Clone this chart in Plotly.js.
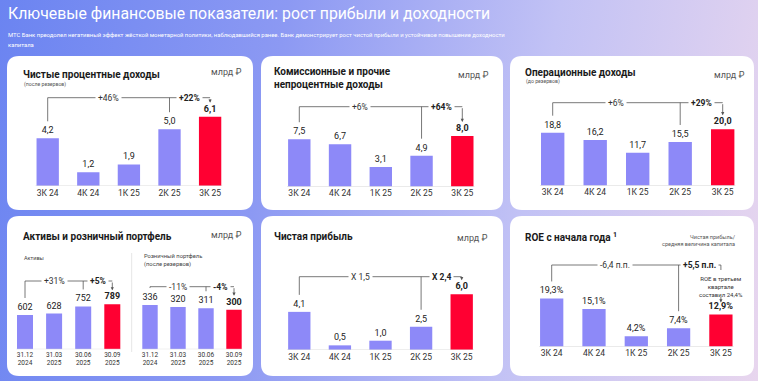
<!DOCTYPE html>
<html><head><meta charset="utf-8">
<script src="https://cdn.plot.ly/plotly-3.0.1.min.js"></script>
<style>
html,body{margin:0;padding:0;width:758px;height:381px;overflow:hidden;}
body{background:linear-gradient(100deg,#6b84f1 0%,#8c99f3 35%,#c2c2f5 68%,#e8d6ee 100%);}
#chart{width:758px;height:381px;}
</style></head><body><div id="chart"></div>
<script>
// ---- data ----
const quarters = ['3К 24','4К 24','1К 25','2К 25','3К 25'];
const netInterestIncome = [4.2, 1.2, 1.9, 5.0, 6.1];
const feeIncome = [7.5, 6.7, 3.1, 4.9, 8.0];
const operatingIncome = [18.8, 16.2, 11.7, 15.5, 20.0];
const dates = ['31.12<br>2024','31.03<br>2025','30.06<br>2025','30.09<br>2025'];
const assets = [602, 628, 752, 789];
const retailPortfolio = [336, 320, 311, 300];
const netProfit = [4.1, 0.5, 1.0, 2.5, 6.0];
const roe = [19.3, 15.1, 4.2, 7.4, 12.9];
const niiChanges = ['+46%','+22%'];
const feeChanges = ['+6%','+64%'];
const opChanges = ['+6%','+29%'];
const assetChanges = ['+31%','+5%'];
const retailChanges = ['-11%','-4%'];
const profitChanges = ['X 1,5','X 2,4'];
const roeChanges = ['-6,4 п.п.','+5,5 п.п.'];

// ---- layout helpers ----
const W=758,H=381;
const X=px=>px/W, Y=py=>1-py/H;
const purple='#8d89f8', red='#ff0032', lineCol='#555';
const FONT='Roboto, "Noto Sans", sans-serif';
const fmt=(v,d)=>v.toFixed(d).replace('.',',');
const traces=[], shapes=[], annotations=[];

function roundRect(x0,y0,x1,y1,r){
  const rx=r/W, ry=r/H;
  const a=X(x0),b=X(x1),t=Y(y0),bt=Y(y1);
  return `M${a+rx},${t} L${b-rx},${t} Q${b},${t} ${b},${t-ry} L${b},${bt+ry} Q${b},${bt} ${b-rx},${bt} L${a+rx},${bt} Q${a},${bt} ${a},${bt+ry} L${a},${t-ry} Q${a},${t} ${a+rx},${t} Z`;
}
const cards=[[7,56,253,210],[261,56,503,210],[510,56,754,210],[7,216,253,376],[261,216,503,376],[510,216,754,376]];
cards.forEach(c=>shapes.push({type:'path',xref:'paper',yref:'paper',path:roundRect(...c,12),fillcolor:'#ffffff',line:{width:0},layer:'below'}));

const panels=[
 {cats:quarters,vals:netInterestIncome,chg:niiChanges,dec:1,c0:47.7,s:40.6,base:186,ppu:11.36,by:97.7},
 {cats:quarters,vals:feeIncome,chg:feeChanges,dec:1,c0:299.3,s:40.75,base:186.7,ppu:6.33,by:106.7},
 {cats:quarters,vals:operatingIncome,chg:opChanges,dec:1,c0:552.7,s:42.5,base:185.7,ppu:2.82,by:102.7},
 {cats:dates,vals:assets,chg:assetChanges,dec:0,c0:25,s:29.1,base:349.3,ppu:0.057,by:281,tick:6.5},
 {cats:dates,vals:retailPortfolio,chg:retailChanges,dec:0,c0:150,s:28,base:349.3,ppu:0.132,by:286.7,tick:6.5},
 {cats:quarters,vals:netProfit,chg:profitChanges,dec:1,c0:299.3,s:40.6,base:350,ppu:9.3,by:276.7},
 {cats:quarters,vals:roe,chg:roeChanges,dec:1,c0:551.7,s:42.3,base:346.7,ppu:2.5,by:265,suffix:'%',note:true}
];
const PH=100;
const layout={width:W,height:H,margin:{l:0,r:0,t:0,b:0},paper_bgcolor:'rgba(0,0,0,0)',plot_bgcolor:'rgba(0,0,0,0)',
  showlegend:false,font:{family:FONT,color:'#333'},shapes,annotations,hovermode:false};

panels.forEach((p,i)=>{
  const k=i===0?'':String(i+1);
  const n=p.vals.length;
  const xr='x'+k, yr='y'+k;
  layout['xaxis'+k]={domain:[X(p.c0-p.s/2),X(p.c0+(n-0.5)*p.s)],anchor:yr,type:'category',range:[-0.5,n-0.5],
    showgrid:false,zeroline:false,showline:false,ticks:'',tickfont:{size:p.tick||8.5,color:'#333'},fixedrange:true};
  layout['yaxis'+k]={domain:[Y(p.base),Y(p.base-PH)],anchor:xr,range:[0,PH/p.ppu],visible:false,fixedrange:true};
  traces.push({type:'bar',x:p.cats,y:p.vals,xaxis:xr,yaxis:yr,width:0.55,
    marker:{color:p.vals.map((v,j)=>j===n-1?red:purple)},
    text:p.vals.map((v,j)=>{const s=fmt(v,p.dec)+(p.suffix||'');return j===n-1?'<b>'+s+'</b>':s;}),
    textposition:'outside',textfont:{size:9,color:'#222'},constraintext:'none',cliponaxis:false});
  // baseline
  shapes.push({type:'line',xref:xr,yref:yr,x0:-0.3,x1:n-0.7,y0:0,y1:0,line:{color:'#dcdcdc',width:1}});
  // brackets
  const d=px=>px/p.ppu;
  const yb=(p.base-p.by)/p.ppu;
  const a=0,b=n-2,c=n-1;
  shapes.push({type:'line',xref:xr,yref:yr,x0:a,x1:a,y0:p.vals[a]+d(17),y1:yb,line:{color:lineCol,width:0.8}});
  shapes.push({type:'line',xref:xr,yref:yr,x0:a,x1:c,y0:yb,y1:yb,line:{color:lineCol,width:0.8}});
  shapes.push({type:'line',xref:xr,yref:yr,x0:b,x1:b,y0:yb,y1:p.vals[b]+d(17),line:{color:lineCol,width:0.8}});
  annotations.push({xref:xr,yref:yr,x:(a+b)/2,y:yb,text:p.chg[0],showarrow:false,bgcolor:'#ffffff',borderpad:2,font:{size:8.5,color:'#333'}});
  annotations.push({xref:xr,yref:yr,x:(b+c)/2,y:yb,text:'<b>'+p.chg[1]+'</b>',showarrow:false,bgcolor:'#ffffff',borderpad:2,font:{size:8.5,color:'#222'}});
  if(!p.note){
    annotations.push({xref:xr,yref:yr,axref:xr,ayref:yr,x:c,y:p.vals[c]+d(14),ax:c,ay:yb,text:'',showarrow:true,
      arrowhead:2,arrowsize:0.8,arrowwidth:0.8,arrowcolor:lineCol,standoff:0});
  } else {
    shapes.push({type:'line',xref:xr,yref:yr,x0:c,x1:c,y0:yb,y1:yb-d(5),line:{color:lineCol,width:0.8}});
    annotations.push({xref:xr,yref:yr,x:c,y:yb-d(21),yanchor:'middle',text:'ROE в третьем<br>квартале<br>составил 24,4%',showarrow:false,font:{size:6,color:'#333'},align:'center'});
    annotations.push({xref:xr,yref:yr,axref:xr,ayref:yr,x:c,y:p.vals[c]+d(12),ax:c,ay:p.vals[c]+d(19),text:'',showarrow:true,
      arrowhead:2,arrowsize:0.8,arrowwidth:0.8,arrowcolor:lineCol,standoff:0});
  }
});

// divider in assets card
shapes.push({type:'line',xref:'paper',yref:'paper',x0:X(131.7),x1:X(131.7),y0:Y(253),y1:Y(352),line:{color:'#e6e6e6',width:1}});

// texts
const T=(x,y,text,opt={})=>annotations.push(Object.assign({xref:'paper',yref:'paper',x:X(x),y:Y(y),text,showarrow:false,xanchor:'left',yanchor:'middle',align:'left',font:{size:10,color:'#1a1a1a',weight:700}},opt));
T(6,14,'Ключевые финансовые показатели: рост прибыли и доходности',{font:{family:FONT,size:15.8,color:'#ffffff',weight:400}});
T(6,35,'МТС Банк преодолел негативный эффект жёсткой монетарной политики, наблюдавшийся ранее. Банк демонстрирует рост чистой прибыли и устойчивое повышение доходности',
  {font:{family:FONT,size:5.9,color:'#ffffff',weight:400}});
T(6,45,'капитала',{font:{family:FONT,size:5.9,color:'#ffffff',weight:400}});
T(21,74,'Чистые процентные доходы');
T(22,84.5,'(после резервов)',{font:{size:5.2,color:'#555'}});
T(272,78,'Комиссионные и прочие<br>непроцентные доходы');
T(523,72,'Операционные доходы');
T(524,81,'(до резервов)',{font:{size:5.2,color:'#555'}});
T(21,236,'Активы и розничный портфель');
T(22,258,'Активы',{font:{size:5.5,color:'#444'}});
T(141.7,260,'Розничный портфель<br>(после резервов)',{font:{size:5.8,color:'#444'}});
T(272,236,'Чистая прибыль');
T(523,237,'ROE с начала года <sup>1</sup>');
T(738,240,'Чистая прибыль/<br>средняя величина капитала',{xanchor:'right',align:'right',font:{size:5.5,color:'#555'}});
const unitFont={size:9,color:'#555',weight:400};
T(244,72,'млрд ₽',{xanchor:'right',font:unitFont});
T(491,75,'млрд ₽',{xanchor:'right',font:unitFont});
T(747,75,'млрд ₽',{xanchor:'right',font:unitFont});
T(244,235,'млрд ₽',{xanchor:'right',font:unitFont});
T(490,238,'млрд ₽',{xanchor:'right',font:unitFont});

Plotly.newPlot('chart',traces,layout,{displayModeBar:false,staticPlot:true});
</script></body></html>
